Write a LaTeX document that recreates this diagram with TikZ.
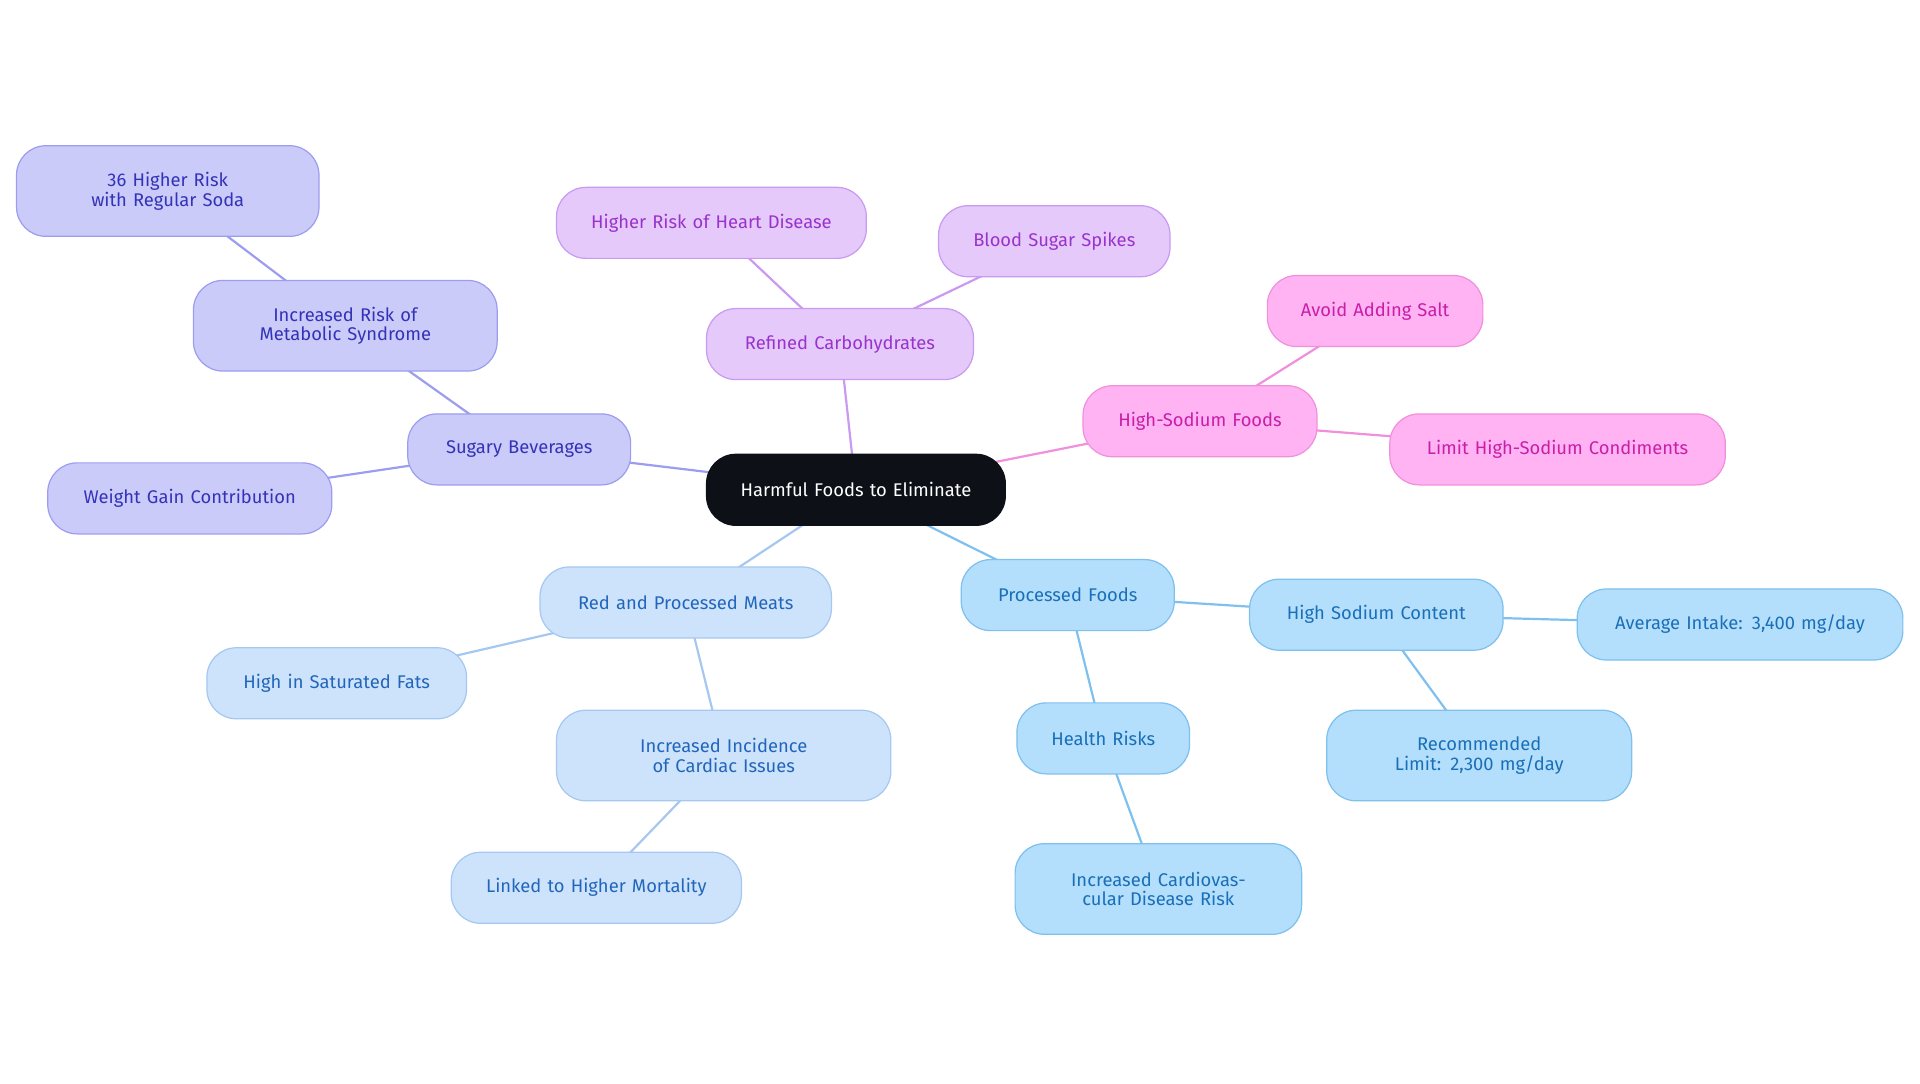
\documentclass[tikz,border=0pt]{standalone}
\usepackage{fontspec}
\setmainfont{Fira Sans}
\usetikzlibrary{backgrounds}
\begin{document}
\begin{tikzpicture}[x=1pt,y=-1pt,
 box/.style={rounded corners=24pt,line width=1pt,align=center,inner sep=0pt,font=\fontsize{15}{16}\selectfont\fontseries{l}\selectfont},
 pu/.style={box,fill=pufill,draw=pubd,text=putx},
 vi/.style={box,fill=vifill,draw=vibd,text=vitx},
 pk/.style={box,fill=pkfill,draw=pkbd,text=pktx},
 lb/.style={box,fill=lbfill,draw=lbbd,text=lbtx},
 sb/.style={box,fill=sbfill,draw=sbbd,text=sbtx},
 rt/.style={box,fill=rootfill,draw=rootfill,text=white},
 e/.style={line width=1.8pt}]
\definecolor{rootfill}{HTML}{0D1117}
\definecolor{pufill}{HTML}{CBCBFA}\definecolor{pubd}{HTML}{9D9DF0}\definecolor{putx}{HTML}{3333B8}
\definecolor{vifill}{HTML}{E6C9FB}\definecolor{vibd}{HTML}{C99AF0}\definecolor{vitx}{HTML}{9933CC}
\definecolor{pkfill}{HTML}{FFB3F2}\definecolor{pkbd}{HTML}{F090DD}\definecolor{pktx}{HTML}{C81EA8}
\definecolor{lbfill}{HTML}{CDE3FB}\definecolor{lbbd}{HTML}{A6C8F0}\definecolor{lbtx}{HTML}{2266BB}
\definecolor{sbfill}{HTML}{B3DFFC}\definecolor{sbbd}{HTML}{7EC0EE}\definecolor{sbtx}{HTML}{1A6FB8}
\useasboundingbox (0,0) rectangle (1568,884.5);
\def\bx#1#2#3#4#5#6#7{\node[#1,minimum width=#5pt,minimum height=#6pt,text width=#5pt-40pt] (#2) at (#3,#4) {#7};}
\bx{rt}{root}{699}{400}{244}{58}{Harmful Foods to Eliminate}
\bx{pu}{sug}{424}{367}{182}{58}{Sugary Beverages}
\bx{pu}{met}{282}{266}{248}{74}{Increased Risk of Metabolic Syndrome}
\bx{pu}{soda}{137}{156}{247}{74}{36 Higher Risk with Regular Soda}
\bx{pu}{wg}{155}{407}{232}{58}{Weight Gain Contribution}
\bx{vi}{ref}{686}{281}{218}{58}{Refined Carbohydrates}
\bx{vi}{hr}{581}{182}{253}{58}{Higher Risk of Heart Disease}
\bx{vi}{bs}{861}{197}{189}{58}{Blood Sugar Spikes}
\bx{pk}{hsf}{980}{344}{191}{58}{High-Sodium Foods}
\bx{pk}{salt}{1123}{254}{176}{58}{Avoid Adding Salt}
\bx{pk}{cond}{1272}{367}{274}{58}{Limit High-Sodium Condiments}
\bx{lb}{red}{560}{492}{238}{58}{Red and Processed Meats}
\bx{lb}{fat}{275}{558}{212}{58}{High in Saturated Fats}
\bx{lb}{card}{591}{617}{273}{74}{Increased Incidence of Cardiac Issues}
\bx{lb}{mort}{487}{725}{237}{58}{Linked to Higher Mortality}
\bx{sb}{proc}{872}{486}{174}{58}{Processed Foods}
\bx{sb}{hsc}{1124}{502}{207}{58}{High Sodium Content}
\bx{sb}{avg}{1421}{510}{266}{58}{Average Intake: 3,400 mg/day}
\bx{sb}{rec}{1208}{617}{249}{74}{Recommended Limit: 2,300 mg/day}
\bx{sb}{hrisk}{901}{603}{141}{58}{Health Risks}
\bx{sb}{cvd}{946}{726}{234}{74}{Increased Cardiovascular Disease Risk}
\begin{scope}[on background layer]
\draw[e,pubd] (root.center)--(sug.center) (sug.center)--(met.center) (met.center)--(soda.center) (sug.center)--(wg.center);
\draw[e,vibd] (root.center)--(ref.center) (ref.center)--(hr.center) (ref.center)--(bs.center);
\draw[e,pkbd] (root.center)--(hsf.center) (hsf.center)--(salt.center) (hsf.center)--(cond.center);
\draw[e,lbbd] (root.center)--(red.center) (red.center)--(fat.center) (red.center)--(card.center) (card.center)--(mort.center);
\draw[e,sbbd] (root.center)--(proc.center) (proc.center)--(hsc.center) (hsc.center)--(avg.center) (hsc.center)--(rec.center) (proc.center)--(hrisk.center) (hrisk.center)--(cvd.center);
\end{scope}
\end{tikzpicture}
\end{document}
